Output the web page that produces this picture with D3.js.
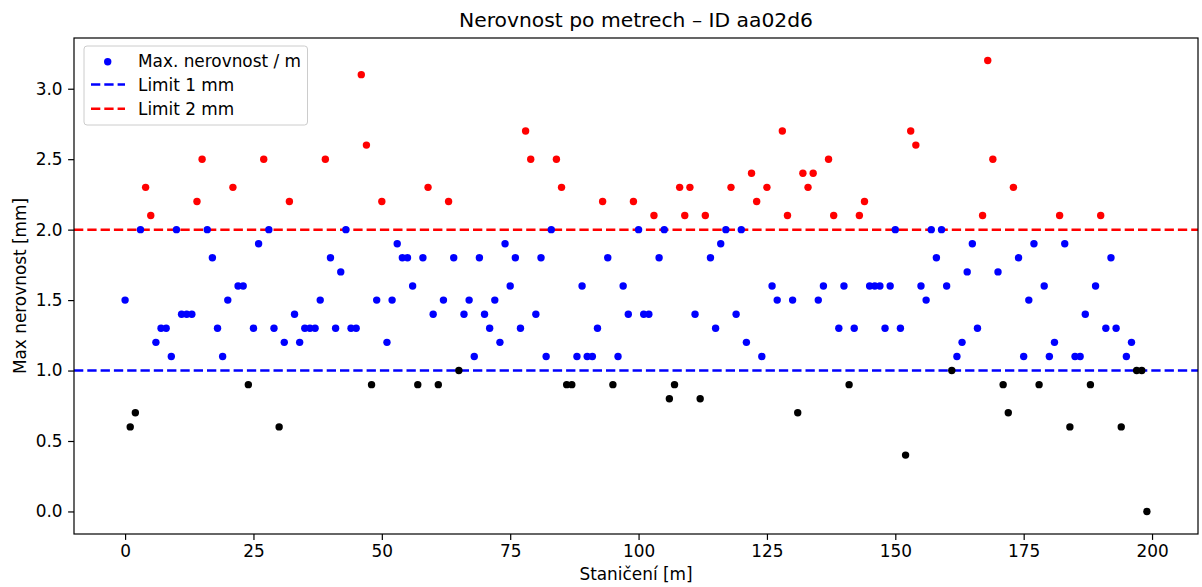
<!DOCTYPE html>
<html><head><meta charset="utf-8">
<script src="https://cdn.jsdelivr.net/npm/d3@7"></script>
<style>body{margin:0;background:#fff;} svg{display:block;font-family:"DejaVu Sans",sans-serif;}</style>
</head><body>
<script>
const stations = d3.range(0, 200);
const values = [
1.5,0.6,0.7,2.0,2.3,2.1,1.2,1.3,1.3,1.1, 2.0,1.4,1.4,1.4,2.2,2.5,2.0,1.8,1.3,1.1,
1.5,2.3,1.6,1.6,0.9,1.3,1.9,2.5,2.0,1.3, 0.6,1.2,2.2,1.4,1.2,1.3,1.3,1.3,1.5,2.5,
1.8,1.3,1.7,2.0,1.3,1.3,3.1,2.6,0.9,1.5, 2.2,1.2,1.5,1.9,1.8,1.8,1.6,0.9,1.8,2.3,
1.4,0.9,1.5,2.2,1.8,1.0,1.4,1.5,1.1,1.8, 1.4,1.3,1.5,1.2,1.9,1.6,1.8,1.3,2.7,2.5,
1.4,1.8,1.1,2.0,2.5,2.3,0.9,0.9,1.1,1.6, 1.1,1.1,1.3,2.2,1.8,0.9,1.1,1.6,1.4,2.2,
2.0,1.4,1.4,2.1,1.8,2.0,0.8,0.9,2.3,2.1, 2.3,1.4,0.8,2.1,1.8,1.3,1.9,2.0,2.3,1.4,
2.0,1.2,2.4,2.2,1.1,2.3,1.6,1.5,2.7,2.1, 1.5,0.7,2.4,2.3,2.4,1.5,1.6,2.5,2.1,1.3,
1.6,0.9,1.3,2.1,2.2,1.6,1.6,1.6,1.3,1.6, 2.0,1.3,0.4,2.7,2.6,1.6,1.5,2.0,1.8,2.0,
1.6,1.0,1.1,1.2,1.7,1.9,1.3,2.1,3.2,2.5, 1.7,0.9,0.7,2.3,1.8,1.1,1.5,1.9,0.9,1.6,
1.1,1.2,2.1,1.9,0.6,1.1,1.1,1.4,0.9,1.6, 2.1,1.3,1.8,1.3,0.6,1.1,1.2,1.0,1.0,0.0
];
const xTicks = [0,25,50,75,100,125,150,175,200];
const yTicks = [0.0,0.5,1.0,1.5,2.0,2.5,3.0];
const limits = [{v:1, color:"blue", label:"Limit 1 mm"},{v:2, color:"red", label:"Limit 2 mm"}];
const titleText = "Nerovnost po metrech – ID aa02d6";
const xLabel = "Staničení [m]";
const yLabel = "Max nerovnost [mm]";
const seriesLabel = "Max. nerovnost / m";

const W = 1202, H = 587;
const m = {left:74, right:1198, top:38, bottom:534};
const FS = "16.9px";
const svg = d3.select("body").append("svg").attr("width",W).attr("height",H);

const x = d3.scaleLinear().domain([-9.95, 208.95]).range([m.left, m.right]);
const y = d3.scaleLinear().domain([-0.16, 3.36]).range([m.bottom, m.top]);

const colorOf = v => v > 2 ? "red" : (v > 1 ? "blue" : "black");
const DASH = "9.3,4";

// limit lines
svg.append("g").selectAll("line").data(limits).join("line")
  .attr("x1", m.left).attr("x2", m.right)
  .attr("y1", d=>y(d.v)).attr("y2", d=>y(d.v))
  .attr("stroke", d=>d.color).attr("stroke-width",2.5)
  .attr("stroke-dasharray",DASH);

// points
svg.append("g").selectAll("circle").data(values).join("circle")
  .attr("cx",(d,i)=>x(stations[i])).attr("cy",d=>y(d)).attr("r",3.7)
  .attr("fill",d=>colorOf(d));

// axes
const xAxis = svg.append("g").attr("transform",`translate(0,${m.bottom})`)
  .call(d3.axisBottom(x).tickValues(xTicks).tickFormat(d3.format("d")).tickSizeOuter(0).tickSize(5.9).tickPadding(5.5));
const yAxis = svg.append("g").attr("transform",`translate(${m.left},0)`)
  .call(d3.axisLeft(y).tickValues(yTicks).tickFormat(d3.format(".1f")).tickSizeOuter(0).tickSize(5.9).tickPadding(5.5));
[xAxis,yAxis].forEach(a=>{
  a.select(".domain").remove();
  a.selectAll("text").attr("font-size",FS).attr("fill","#000").attr("font-family","DejaVu Sans");
  a.selectAll("line").attr("stroke","#000").attr("stroke-width",1.2);
});

// frame
svg.append("rect").attr("x",m.left).attr("y",m.top).attr("width",m.right-m.left).attr("height",m.bottom-m.top)
  .attr("fill","none").attr("stroke","#000").attr("stroke-width",1.2);

// title and labels
svg.append("text").attr("x",(m.left+m.right)/2).attr("y",27).attr("text-anchor","middle")
  .attr("font-size","20.3px").text(titleText);
svg.append("text").attr("x",(m.left+m.right)/2).attr("y",580).attr("text-anchor","middle")
  .attr("font-size",FS).text(xLabel);
svg.append("text").attr("transform",`translate(26,${(m.top+m.bottom)/2}) rotate(-90)`).attr("text-anchor","middle")
  .attr("font-size",FS).text(yLabel);

// legend
const lg = svg.append("g");
lg.append("rect").attr("x",84).attr("y",46).attr("width",223.5).attr("height",79).attr("rx",3)
  .attr("fill","#fff").attr("fill-opacity",0.8).attr("stroke","#ccc").attr("stroke-width",1);
lg.append("circle").attr("cx",107.7).attr("cy",61.7).attr("r",3.7).attr("fill","blue");
lg.append("text").attr("x",138).attr("y",67).attr("font-size",FS).text(seriesLabel);
limits.forEach((d,i)=>{
  const yy = 84.6 + i*24.2;
  lg.append("line").attr("x1",91).attr("x2",125).attr("y1",yy).attr("y2",yy)
    .attr("stroke",d.color).attr("stroke-width",2.5).attr("stroke-dasharray",DASH);
  lg.append("text").attr("x",138).attr("y",yy+6.4).attr("font-size",FS).text(d.label);
});
</script>
</body></html>
